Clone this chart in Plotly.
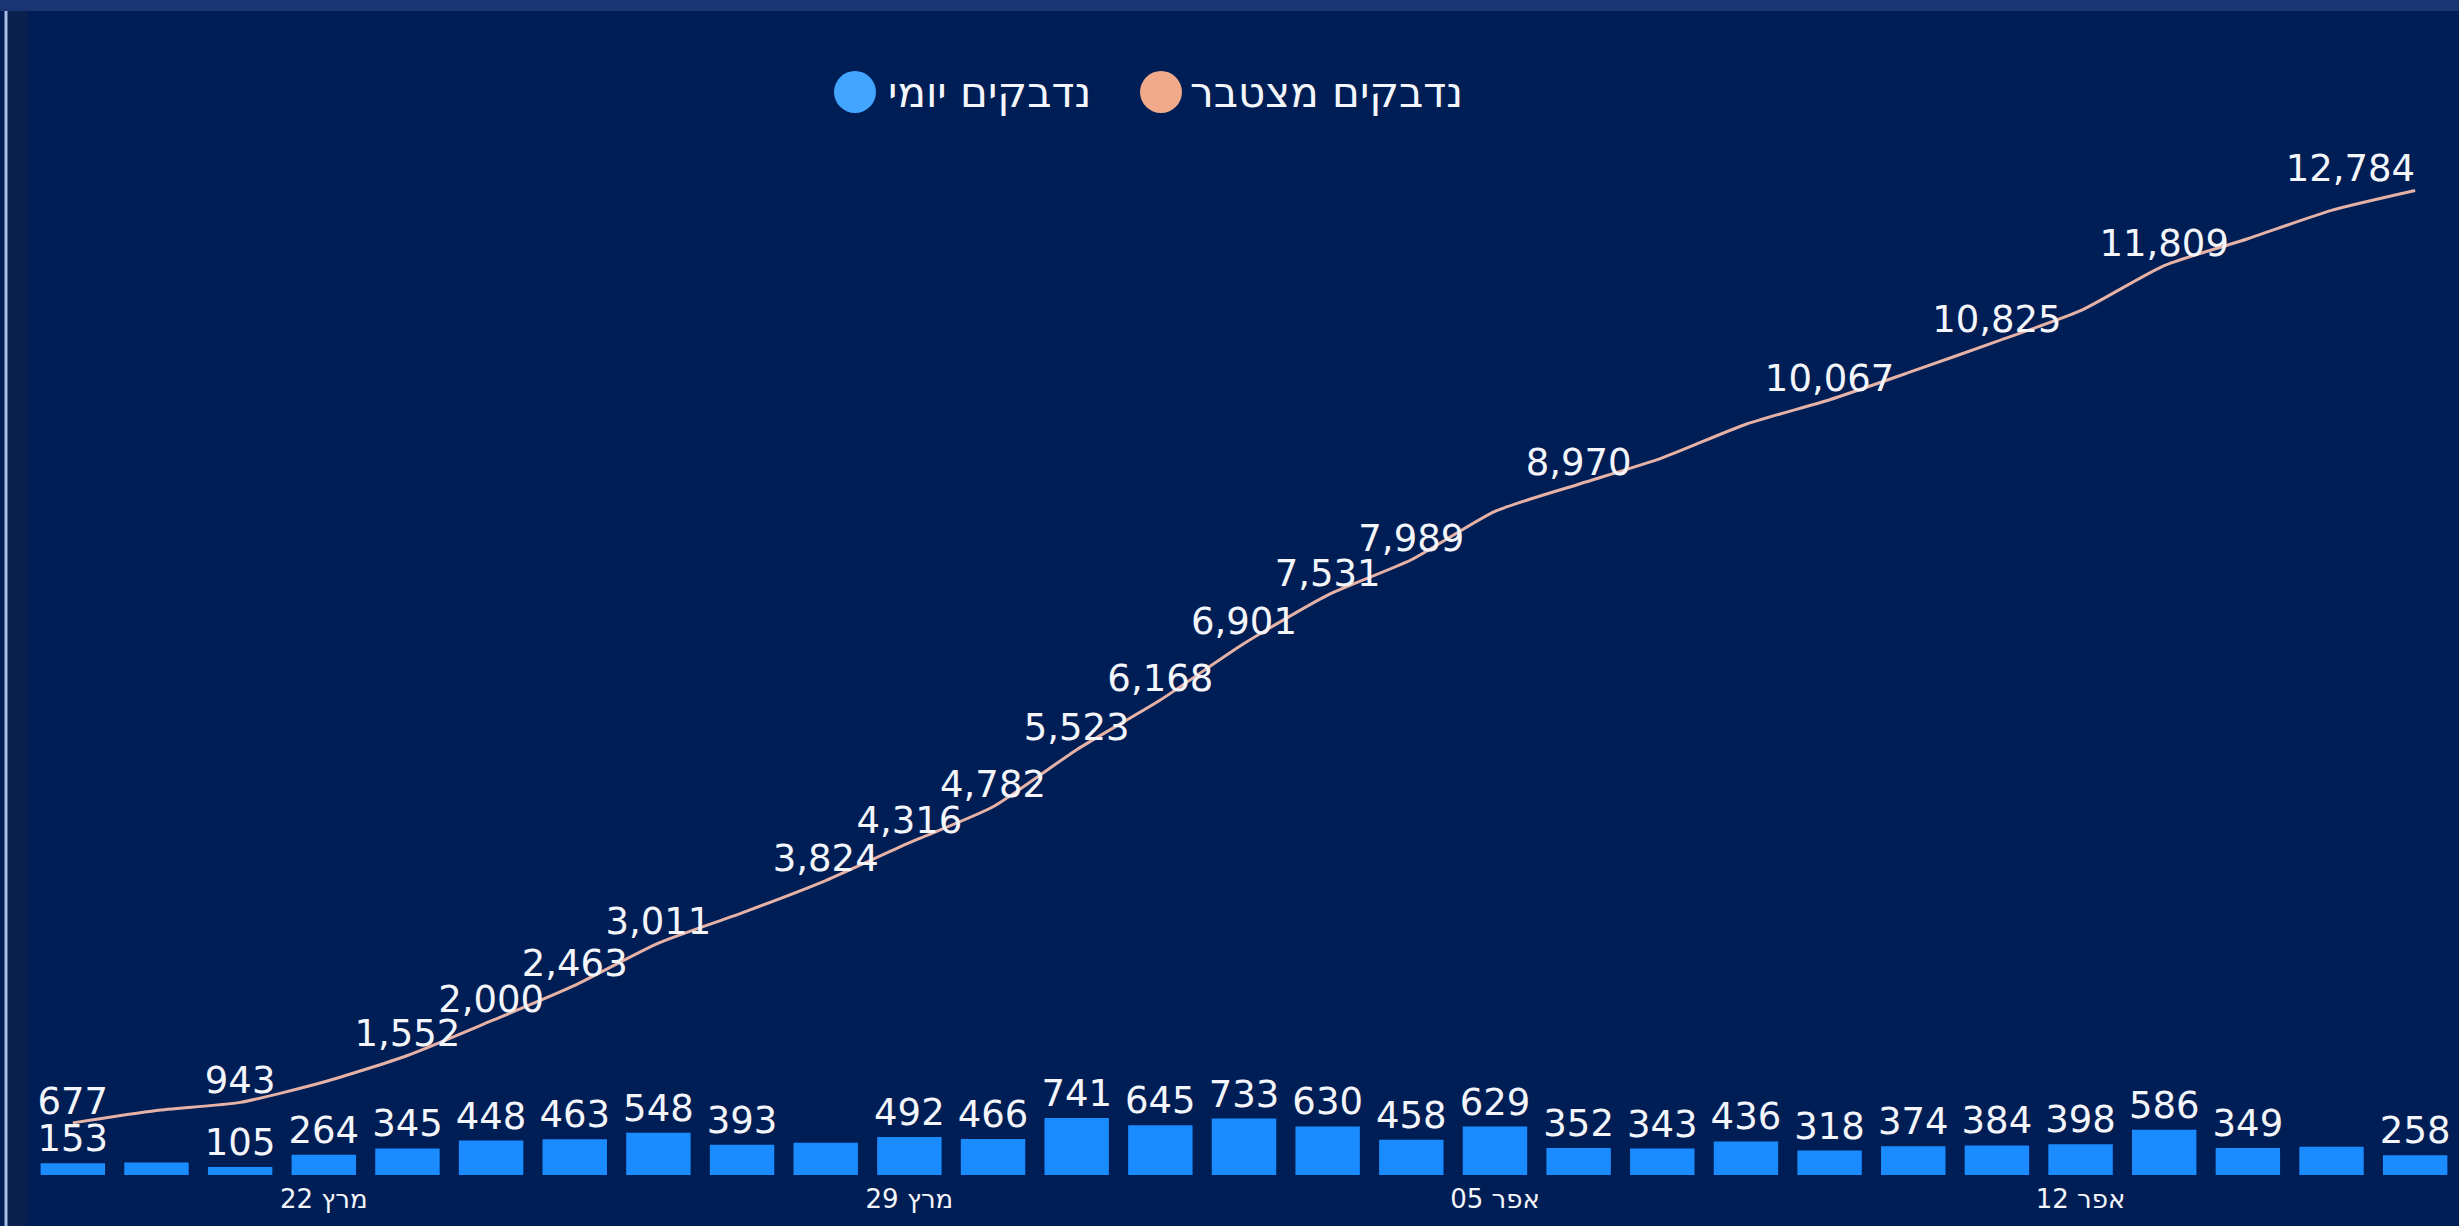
import plotly.graph_objects as go

# ---------------- data ----------------
dates = ["2020-03-19", "2020-03-20", "2020-03-21", "2020-03-22", "2020-03-23", "2020-03-24",
         "2020-03-25", "2020-03-26", "2020-03-27", "2020-03-28", "2020-03-29", "2020-03-30",
         "2020-03-31", "2020-04-01", "2020-04-02", "2020-04-03", "2020-04-04", "2020-04-05",
         "2020-04-06", "2020-04-07", "2020-04-08", "2020-04-09", "2020-04-10", "2020-04-11",
         "2020-04-12", "2020-04-13", "2020-04-14", "2020-04-15", "2020-04-16"]

daily = [153, 161, 105, 264, 345, 448, 463, 548, 393, 420, 492, 466, 741, 645, 733,
         630, 458, 629, 352, 343, 436, 318, 374, 384, 398, 586, 349, 368, 258]

cumulative = [677, 838, 943, 1207, 1552, 2000, 2463, 3011, 3404, 3824, 4316, 4782, 5523,
              6168, 6901, 7531, 7989, 8618, 8970, 9313, 9749, 10067, 10441, 10825, 11223,
              11809, 12158, 12526, 12784]

daily_label_shown = [True, False, True, True, True, True, True, True, True, False, True, True,
                     True, True, True, True, True, True, True, True, True, True, True, True,
                     True, True, True, False, True]

cum_label_shown = [True, False, True, False, True, True, True, True, False, True, True, True,
                   True, True, True, True, True, False, True, False, False, True, False, True,
                   False, True, False, False, True]

tick_dates = ["2020-03-22", "2020-03-29", "2020-04-05", "2020-04-12"]
tick_labels = ["מרץ 22", "מרץ 29", "אפר 05", "אפר 12"]

name_daily = "נדבקים יומי"
name_cum = "נדבקים מצטבר"

# ---------------- style ----------------
W, H = 2459, 1226
BG = "#001e56"
BAR = "#1a8cff"
LINE = "#e6b2a6"
LEG_DAILY = "#42a5ff"
LEG_CUM = "#f0aa8a"
TXT = "#f4f6fb"
FONT = "DejaVu Sans"
LABEL_SIZE = 37

daily_text = [f"{v:,}" if s else "" for v, s in zip(daily, daily_label_shown)]
cum_text = [f"{v:,}" if s else "" for v, s in zip(cumulative, cum_label_shown)]
cum_pos = ["top center"] * len(cumulative)
cum_pos[-1] = "top left"

fig = go.Figure()
fig.add_trace(go.Bar(
    x=dates, y=daily, name=name_daily,
    marker=dict(color=BAR, line=dict(width=0)),
    text=daily_text, textposition="outside", cliponaxis=False,
    constraintext="none",
    textfont=dict(family=FONT, size=LABEL_SIZE, color=TXT),
    showlegend=False, hoverinfo="skip",
))
fig.add_trace(go.Scatter(
    x=dates, y=cumulative, name=name_cum, mode="lines+text",
    line=dict(color=LINE, width=3, shape="spline", smoothing=0.6),
    text=cum_text, textposition=cum_pos, cliponaxis=False,
    textfont=dict(family=FONT, size=LABEL_SIZE, color=TXT),
    showlegend=False, hoverinfo="skip",
))

# pixel -> paper helpers (layout positions only)
def px(xp):
    return xp / W

def py(yp):
    return 1 - yp / H

plot_left, plot_right = 31, 2457
plot_top, plot_bottom = 140, 1175

fig.update_layout(
    width=W, height=H,
    paper_bgcolor=BG, plot_bgcolor=BG,
    margin=dict(l=0, r=0, t=0, b=0),
    bargap=0.23,
    font=dict(family=FONT, color=TXT),
    xaxis=dict(
        type="category", domain=[px(plot_left), px(plot_right)],
        range=[-0.5, len(dates) - 0.5],
        tickmode="array", tickvals=tick_dates, ticktext=tick_labels,
        tickfont=dict(family=FONT, size=26, color=TXT),
        ticklabelstandoff=6,
        showgrid=False, zeroline=False, showline=False, ticks="",
        automargin=False, fixedrange=True,
    ),
    yaxis=dict(
        domain=[py(plot_bottom), py(plot_top)],
        range=[0, 13440], visible=False, showgrid=False, zeroline=False,
        automargin=False, fixedrange=True,
    ),
    showlegend=False,
)

# frame decorations: top band and left edge line
fig.add_shape(type="rect", xref="paper", yref="paper", x0=0, x1=1, y0=py(11), y1=1,
              fillcolor="#1b3572", line=dict(width=0), layer="below")
fig.add_shape(type="rect", xref="paper", yref="paper", x0=px(8), x1=px(28), y0=0, y1=py(11),
              fillcolor="#0a2150", line=dict(width=0), layer="below")
fig.add_shape(type="line", xref="paper", yref="paper", x0=px(6), x1=px(6), y0=0, y1=py(11),
              line=dict(color="#a9bde2", width=3))

# manual legend (large circular markers)
r = 21
for cx, col in [(855, LEG_DAILY), (1161, LEG_CUM)]:
    fig.add_shape(type="circle", xref="paper", yref="paper",
                  x0=px(cx - r), x1=px(cx + r), y0=py(92 + r), y1=py(92 - r),
                  fillcolor=col, line=dict(width=0))
fig.add_annotation(xref="paper", yref="paper", x=px(886), y=py(92), text=name_daily,
                   showarrow=False, xanchor="left", yanchor="middle",
                   font=dict(family=FONT, size=42, color=TXT))
fig.add_annotation(xref="paper", yref="paper", x=px(1188), y=py(92), text=name_cum,
                   showarrow=False, xanchor="left", yanchor="middle",
                   font=dict(family=FONT, size=42, color=TXT))

fig.write_html("out.html", config={"displayModeBar": False},
               post_script="document.body.style.margin='0';document.body.style.overflow='hidden';")
